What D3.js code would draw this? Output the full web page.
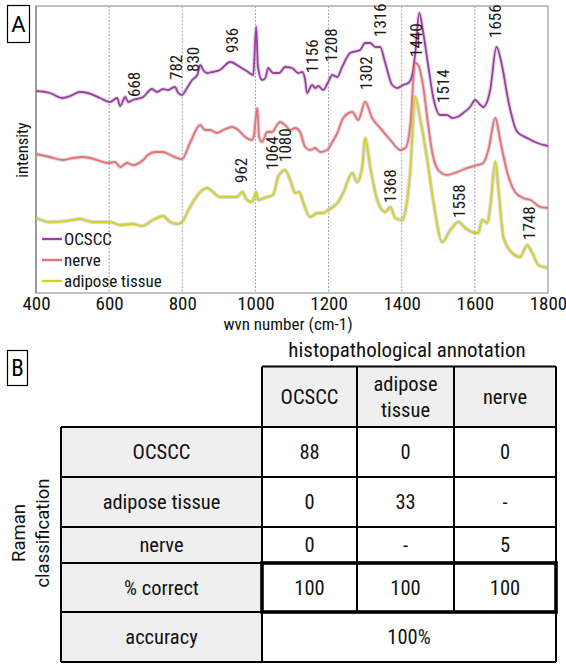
<!DOCTYPE html>
<html><head><meta charset="utf-8">
<script src="https://cdn.jsdelivr.net/npm/d3@7"></script>
<style>body{margin:0;background:#fff} svg{display:block}</style>
</head><body>
<svg id="c" width="566" height="665"></svg>
<script>
// ---------- data ----------
const seriesNames = ["OCSCC", "nerve", "adipose tissue"];
const seriesColors = ["#a23aa8", "#ef6e78", "#d3d325"];

const ocscc = [[400,202],[438,200],[471,195],[493,197],[520,201],[542,200],[575,195],[602,191],[622,195],[630,187],[644,196],[652,191],[665,193],[693,196],[717,204],[731,201],[747,204],[761,203],[772,205],[780,206],[789,200],[799,198],[813,205],[827,213],[841,218],[849,228],[857,223],[868,220],[884,221],[903,223],[931,231],[958,226],[980,221],[994,218],[1002,266],[1007,226],[1018,213],[1027,215],[1035,225],[1048,220],[1065,220],[1081,226],[1100,225],[1117,220],[1128,221],[1136,213],[1141,200],[1155,208],[1163,205],[1172,207],[1185,203],[1199,211],[1210,218],[1224,216],[1237,226],[1259,240],[1286,243],[1300,250],[1314,250],[1328,246],[1341,246],[1355,230],[1374,208],[1388,205],[1404,208],[1418,210],[1429,218],[1437,240],[1448,280],[1459,260],[1473,226],[1486,196],[1505,178],[1524,178],[1538,175],[1552,176],[1568,180],[1587,186],[1601,193],[1615,188],[1623,186],[1642,203],[1659,246],[1675,226],[1691,193],[1716,161],[1743,155],[1771,150],[1800,147]];

const nerve = [[400,139],[438,136],[474,133],[501,135],[529,136],[567,133],[597,130],[616,131],[630,126],[649,130],[665,128],[693,133],[706,138],[726,141],[747,141],[767,138],[786,135],[799,134],[821,150],[849,168],[862,163],[876,163],[895,160],[912,163],[936,166],[953,163],[972,156],[991,153],[996,158],[1005,185],[1010,156],[1018,151],[1032,161],[1046,161],[1059,168],[1068,171],[1081,168],[1095,163],[1109,165],[1122,161],[1136,146],[1150,143],[1163,145],[1177,141],[1196,143],[1210,151],[1224,160],[1240,175],[1265,181],[1281,173],[1300,191],[1319,175],[1341,165],[1369,153],[1396,143],[1410,145],[1423,166],[1437,230],[1445,228],[1459,206],[1473,166],[1486,136],[1500,123],[1524,118],[1552,121],[1579,125],[1607,128],[1623,130],[1637,143],[1656,175],[1669,153],[1689,120],[1710,101],[1732,95],[1752,93],[1779,86],[1800,85]];

const adipose = [[400,75],[438,71],[485,72],[520,74],[556,71],[602,71],[630,68],[665,69],[690,67],[720,73],[747,77],[767,71],[786,69],[799,71],[821,86],[849,101],[868,105],[884,101],[903,96],[931,96],[950,96],[964,101],[977,93],[991,91],[1002,101],[1007,93],[1032,96],[1048,98],[1062,116],[1081,123],[1095,113],[1109,100],[1120,101],[1131,90],[1150,76],[1169,80],[1185,80],[1199,83],[1224,90],[1240,100],[1265,120],[1278,111],[1292,126],[1300,155],[1314,126],[1333,93],[1355,81],[1369,86],[1382,75],[1401,73],[1415,93],[1423,120],[1437,196],[1451,173],[1470,133],[1486,93],[1511,51],[1533,63],[1555,71],[1574,65],[1601,60],[1609,60],[1620,73],[1634,70],[1642,86],[1656,131],[1664,106],[1678,56],[1702,40],[1724,36],[1743,48],[1757,40],[1774,28],[1800,25]];

const xTicks = [400, 600, 800, 1000, 1200, 1400, 1600, 1800];
const gridTicks = [600, 800, 1000, 1200, 1400, 1600];

// peak annotations: label, wavenumber where the label sits, intensity at label foot
const peakLabels = ["668","782","830","936","1156","1208","1302","1316","1440","1514","1656","962","1064","1080","1368","1558","1748"];
const peakWn =     [668, 782, 830, 936, 1156, 1208, 1302, 1341, 1440, 1514, 1656, 962, 1046, 1080, 1368, 1558, 1748];
const peakInt =    [196, 213, 221, 240, 220, 231, 203, 256, 236, 190, 255, 110, 123, 131, 90, 75, 53];

// table
const tableCols = ["OCSCC", "adipose\ntissue", "nerve"];
const tableRows = ["OCSCC", "adipose tissue", "nerve", "% correct"];
const tableValues = [["88","0","0"],["0","33","-"],["0","-","5"],["100","100","100"]];
const accuracyLabel = "accuracy";
const accuracyValue = "100%";

// ---------- drawing ----------
const svg = d3.select("#c");
const condensed = "'Liberation Sans Narrow','Roboto Condensed','DejaVu Sans Condensed',sans-serif";
const roboto = "Roboto, 'Liberation Sans', sans-serif";

const plot = {l: 36, r: 548, t: 6, b: 293};
const x = d3.scaleLinear().domain([400, 1800]).range([plot.l, plot.r]);
const y = d3.scaleLinear().domain([0, 287]).range([plot.b, plot.t]);

// panel label A
svg.append("rect").attr("x", 7.5).attr("y", 5.5).attr("width", 22).attr("height", 37)
  .attr("fill", "#fff").attr("stroke", "#000").attr("stroke-width", 1.2);
svg.append("text").attr("x", 18.5).attr("y", 32).attr("text-anchor", "middle")
  .attr("font-family", roboto).attr("font-size", 22).text("A");

// grid
svg.append("g").selectAll("line").data(gridTicks).join("line")
  .attr("x1", d => x(d)).attr("x2", d => x(d)).attr("y1", plot.t).attr("y2", plot.b)
  .attr("stroke", "#9a9a9a").attr("stroke-width", 0.9).attr("stroke-dasharray", "2,1.5");

// frame
svg.append("rect").attr("x", plot.l).attr("y", plot.t).attr("width", plot.r - plot.l).attr("height", plot.b - plot.t)
  .attr("fill", "none").attr("stroke", "#a8a8a8").attr("stroke-width", 1.4);
svg.append("line").attr("x1", plot.l).attr("x2", plot.l).attr("y1", plot.t).attr("y2", plot.b)
  .attr("stroke", "#8a8a8a").attr("stroke-width", 1.4);

// axis
const xAxis = d3.axisBottom(x).tickValues(xTicks).tickSize(0).tickPadding(3).tickFormat(d3.format("d"));
const gx = svg.append("g").attr("transform", `translate(0,${plot.b})`).call(xAxis);
gx.select(".domain").remove();
gx.selectAll("text").attr("font-family", condensed).attr("font-size", 19).attr("fill", "#111");

svg.append("text").attr("x", 288).attr("y", 330).attr("text-anchor", "middle")
  .attr("font-family", condensed).attr("font-size", 17).attr("fill", "#111").text("wvn number (cm-1)");
svg.append("text").attr("transform", "translate(22,150) rotate(-90)").attr("text-anchor", "middle")
  .attr("dy", "0.35em")
  .attr("font-family", condensed).attr("font-size", 16.5).attr("fill", "#111").text("intensity");

// lines
const line = d3.line().x(d => x(d[0])).y(d => y(d[1])).curve(d3.curveMonotoneX);
const allSeries = [ocscc, nerve, adipose];
const gLines = svg.append("g");
allSeries.forEach((s, i) => {
  gLines.append("path").datum(s).attr("d", line).attr("fill", "none")
    .attr("stroke", "#b5b5b5").attr("stroke-opacity", 0.5).attr("stroke-width", 4);
});
allSeries.forEach((s, i) => {
  gLines.append("path").datum(s).attr("d", line).attr("fill", "none")
    .attr("stroke", seriesColors[i]).attr("stroke-width", 1.8).attr("stroke-linejoin", "round");
});

// peak labels
svg.append("g").selectAll("text").data(peakLabels).join("text")
  .attr("transform", (d, i) => `translate(${x(peakWn[i])},${y(peakInt[i])}) rotate(-90)`)
  .attr("dy", "0.35em")
  .attr("font-family", condensed).attr("font-size", 17).attr("fill", "#1a1a1a").text(d => d);

// legend
const lg = svg.append("g");
seriesNames.forEach((n, i) => {
  const yy = 239 + i * 21;
  lg.append("line").attr("x1", 42).attr("x2", 62).attr("y1", yy).attr("y2", yy)
    .attr("stroke", seriesColors[i]).attr("stroke-width", 2.4);
  lg.append("text").attr("x", 64).attr("y", yy).attr("dy", "0.36em")
    .attr("font-family", condensed).attr("font-size", 17).attr("fill", "#111").text(n);
});

// ---------- panel B ----------
svg.append("rect").attr("x", 7.5).attr("y", 350.5).attr("width", 20).attr("height", 35)
  .attr("fill", "#fff").attr("stroke", "#000").attr("stroke-width", 1.2);
svg.append("text").attr("x", 17.5).attr("y", 376).attr("text-anchor", "middle")
  .attr("font-family", condensed).attr("font-size", 23).text("B");

const colX = [262, 357, 454, 556];
const labelX0 = 61;
const headTop = 366.5, headBot = 427;
const rowY = [427, 477, 527, 563, 612, 662];
const tfont = condensed, tsize = 20.5;
const T = svg.append("g");

svg.append("text").attr("x", 407).attr("y", 357).attr("text-anchor", "middle")
  .attr("font-family", tfont).attr("font-size", 21).attr("fill", "#111").text("histopathological annotation");

// fills
tableCols.forEach((c, j) => {
  T.append("rect").attr("x", colX[j]).attr("y", headTop).attr("width", colX[j + 1] - colX[j]).attr("height", headBot - headTop)
    .attr("fill", "#efefef");
});
rowY.slice(0, -1).forEach((yy, i) => {
  T.append("rect").attr("x", labelX0).attr("y", yy).attr("width", colX[0] - labelX0).attr("height", rowY[i + 1] - yy)
    .attr("fill", "#efefef");
});

// grid lines
const ls = (x1, y1, x2, y2, w) => T.append("line").attr("x1", x1).attr("y1", y1).attr("x2", x2).attr("y2", y2)
  .attr("stroke", "#000").attr("stroke-width", w || 2);
ls(colX[0], headTop, colX[3], headTop);
colX.forEach((cx, j) => ls(cx, headTop, cx, j === 0 || j === 3 ? rowY[5] : rowY[4]));
rowY.forEach(yy => ls(labelX0, yy, colX[3], yy));
ls(labelX0, rowY[0], labelX0, rowY[5]);
// thick box round % correct values
T.append("rect").attr("x", colX[0]).attr("y", rowY[3]).attr("width", colX[3] - colX[0]).attr("height", rowY[4] - rowY[3])
  .attr("fill", "none").attr("stroke", "#000").attr("stroke-width", 3.6);

// header texts
tableCols.forEach((c, j) => {
  const cx = (colX[j] + colX[j + 1]) / 2, cy = (headTop + headBot) / 2;
  const parts = c.split("\n");
  parts.forEach((p, k) => {
    T.append("text").attr("x", cx).attr("y", cy + (k - (parts.length - 1) / 2) * 26).attr("dy", "0.35em")
      .attr("text-anchor", "middle").attr("font-family", tfont).attr("font-size", tsize).attr("fill", "#111").text(p);
  });
});
// rows
tableRows.forEach((r, i) => {
  const cy = (rowY[i] + rowY[i + 1]) / 2;
  T.append("text").attr("x", (labelX0 + colX[0]) / 2).attr("y", cy).attr("dy", "0.35em").attr("text-anchor", "middle")
    .attr("font-family", tfont).attr("font-size", tsize).attr("fill", "#111").text(r);
  tableValues[i].forEach((v, j) => {
    T.append("text").attr("x", (colX[j] + colX[j + 1]) / 2).attr("y", cy).attr("dy", "0.35em").attr("text-anchor", "middle")
      .attr("font-family", tfont).attr("font-size", tsize).attr("fill", "#111").text(v);
  });
});
{
  const cy = (rowY[4] + rowY[5]) / 2;
  T.append("text").attr("x", (labelX0 + colX[0]) / 2).attr("y", cy).attr("dy", "0.35em").attr("text-anchor", "middle")
    .attr("font-family", tfont).attr("font-size", tsize).attr("fill", "#111").text(accuracyLabel);
  T.append("text").attr("x", (colX[0] + colX[3]) / 2).attr("y", cy).attr("dy", "0.35em").attr("text-anchor", "middle")
    .attr("font-family", tfont).attr("font-size", tsize).attr("fill", "#111").text(accuracyValue);
}
// Raman classification
const rc = svg.append("text").attr("transform", "translate(0,533) rotate(-90)").attr("text-anchor", "middle")
  .attr("font-family", roboto).attr("font-size", 18.5).attr("fill", "#111");
rc.append("tspan").attr("x", 0).attr("y", 25).text("Raman");
rc.append("tspan").attr("x", 0).attr("y", 49).text("classification");
</script>
</body></html>
